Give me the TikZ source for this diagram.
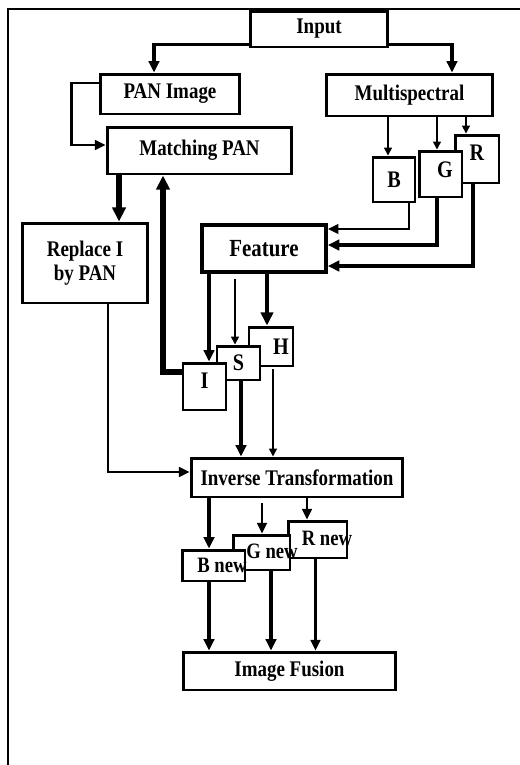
\documentclass[tikz,border=0pt]{standalone}
\usepackage{fontspec}
\setmainfont{Liberation Serif}[FakeStretch=0.85]
\usetikzlibrary{arrows.meta}

\tikzset{
  box/.style={draw, line width=1.7pt, fill=white, inner sep=0pt, align=center,
    font=\bfseries\fontsize{12.7}{14}\selectfont},
  letterbox/.style={box, font=\bfseries\fontsize{13.5}{15}\selectfont},
  lbl/.style={inner sep=0pt, font=\bfseries\fontsize{12.5}{14}\selectfont},
  thinarr/.style={line width=0.85pt, -{Triangle[length=4.5pt,width=4.5pt]}},
  arr/.style={line width=1.3pt, -{Triangle[length=6pt,width=5.5pt]}},
  medarr/.style={line width=1.8pt, -{Triangle[length=6.5pt,width=6pt]}},
  heavyarr/.style={line width=2.4pt, -{Triangle[length=7.5pt,width=7pt]}},
  thickarr/.style={line width=3pt, -{Triangle[length=8pt,width=7.5pt]}},
}

\begin{document}
\begin{tikzpicture}[x=0.02cm, y=-0.02cm]
	\useasboundingbox (0,0) rectangle (520,765);
	% frame
	\draw[line width=1.6pt] (520,9) -- (8,9) -- (8,765);

	% inputs
	\node[box, minimum width=2.76cm, minimum height=0.72cm] (input) at (319,29) {Input};
	\node[box, minimum width=2.8cm, minimum height=0.8cm] (pan) at (170,94) {PAN Image};
	\node[box, minimum width=3.34cm, minimum height=0.84cm] (multi) at (409.5,95) {Multispectral};
	\node[box, minimum width=3.7cm, minimum height=0.94cm] (match) at (199.5,150.5) {Matching PAN};

	% bands
	\node[letterbox, minimum width=0.88cm, minimum height=0.96cm,
	  label={[lbl, font=\bfseries\fontsize{13.5}{15}\selectfont, yshift=0.12cm]center:R}] (rr) at (477,159) {};
	\node[letterbox, minimum width=0.86cm, minimum height=0.92cm,
	  label={[lbl, font=\bfseries\fontsize{13.5}{15}\selectfont, xshift=0.09cm, yshift=0.08cm]center:G}] (gg) at (440.5,174) {};
	\node[letterbox, minimum width=0.84cm, minimum height=0.9cm] (bb) at (394,179.5) {B};

	\node[box, minimum width=2.52cm, minimum height=1.6cm] (replace) at (85,263) {Replace I\\by PAN};
	\node[box, line width=2.2pt, minimum width=2.48cm, minimum height=0.94cm,
	  font=\bfseries\fontsize{14}{16}\selectfont] (feature) at (264,248.5) {Feature};

	% IHS components
	\node[letterbox, minimum width=0.88cm, minimum height=0.78cm,
	  label={[lbl, font=\bfseries\fontsize{13.5}{15}\selectfont, xshift=0.2cm]center:H}] (hh) at (271,346.5) {};
	\node[letterbox, minimum width=0.86cm, minimum height=0.68cm] (ss) at (238.5,363) {S};
	\node[letterbox, minimum width=0.86cm, minimum height=0.94cm,
	  label={[lbl, font=\bfseries\fontsize{13.5}{15}\selectfont, yshift=0.12cm]center:I}] (ii) at (204.5,386.5) {};

	\node[box, minimum width=4.24cm, minimum height=0.78cm] (inverse) at (297,477.5) {Inverse Transformation};

	% new bands
	\node[box, minimum width=1.18cm, minimum height=0.74cm,
	  label={[lbl, xshift=0.19cm, yshift=0.03cm]center:R new}] (rnew) at (317.5,539.5) {};
	\node[box, minimum width=1.14cm, minimum height=0.7cm,
	  label={[lbl, xshift=0.21cm, yshift=0.03cm]center:G new}] (gnew) at (261.5,552.5) {};
	\node[box, minimum width=1.26cm, minimum height=0.62cm,
	  label={[lbl, xshift=0.17cm]center:B new}] (bnew) at (213.5,565.5) {};

	\node[box, minimum width=4.26cm, minimum height=0.76cm] (fusion) at (289.5,671) {Image Fusion};

	% connectors
	\draw[medarr] ([yshift=0.08cm]input.south west) -| ([xshift=-0.32cm]pan.north);
	\draw[medarr] ([yshift=0.08cm]input.south east) -| ([xshift=0.85cm]multi.north);
	\draw[arr] ([yshift=0.22cm]pan.west) -- ++(-0.54cm,0) |- ([yshift=0.11cm]match.west);

	\draw[thinarr] ([xshift=-0.43cm]multi.south) coordinate (m1) -- (m1 |- bb.north);
	\draw[thinarr] ([xshift=0.55cm]multi.south) coordinate (m2) -- (m2 |- gg.north);
	\draw[thinarr] ([xshift=1.13cm]multi.south) coordinate (m3) -- (m3 |- rr.north);

	\draw[arr] ([xshift=0.3cm]bb.south) |- ([yshift=0.39cm]feature.east);
	\draw[medarr] ([xshift=-0.07cm]gg.south) |- ([yshift=0.07cm]feature.east);
	\draw[medarr] ([xshift=-0.08cm]rr.south) |- ([yshift=-0.35cm]feature.east);

	\draw[thickarr] ([xshift=-1.61cm]match.south) coordinate (p1) -- (p1 |- replace.north);
	\draw[thickarr] ([yshift=0.29cm]ii.west) -| ([xshift=-0.73cm]match.south);

	\draw[medarr] ([xshift=-1.1cm]feature.south) coordinate (f1) -- (f1 |- ii.north);
	\draw[thinarr] ([xshift=-0.58cm,yshift=-0.1cm]feature.south) coordinate (f2) -- (f2 |- ss.north);
	\draw[heavyarr] ([xshift=0.06cm]feature.south) coordinate (f3) -- (f3 |- hh.north);

	\draw[medarr] ([xshift=0.05cm]ss.south) coordinate (s1) -- (s1 |- inverse.north);
	\draw[thinarr] ([xshift=0.04cm,yshift=-0.04cm]hh.south) coordinate (h1) -- (h1 |- inverse.north);
	\draw[arr] ([xshift=0.46cm]replace.south) |- ([yshift=0.11cm]inverse.west);

	\draw[medarr] ([xshift=-1.76cm]inverse.south) coordinate (v1) -- (v1 |- bnew.north);
	\draw[arr] ([xshift=-0.7cm,yshift=-0.1cm]inverse.south) coordinate (v2) -- (v2 |- gnew.north);
	\draw[arr] ([xshift=0.2cm]inverse.south) coordinate (v3) -- (v3 |- rnew.north);

	\draw[medarr] ([xshift=-0.09cm]bnew.south) coordinate (n1) -- (n1 |- fusion.north);
	\draw[medarr] ([xshift=0.19cm]gnew.south) coordinate (n2) -- (n2 |- fusion.north);
	\draw[arr] ([xshift=-0.04cm]rnew.south) coordinate (n3) -- (n3 |- fusion.north);
\end{tikzpicture}
\end{document}
